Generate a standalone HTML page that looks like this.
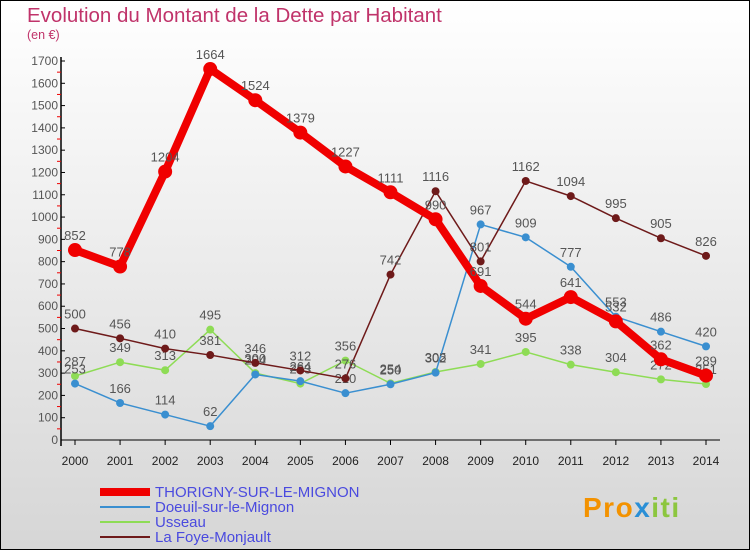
<!DOCTYPE html>
<html><head><meta charset="utf-8"><style>
html,body{margin:0;padding:0}
body{width:750px;height:550px;overflow:hidden;font-family:"Liberation Sans",sans-serif}
</style></head><body>
<svg width="750" height="550" viewBox="0 0 750 550">
<defs><linearGradient id="bg" x1="0" y1="0" x2="0" y2="1"><stop offset="0" stop-color="#ffffff"/><stop offset="1" stop-color="#d6d6d6"/></linearGradient></defs>
<rect x="0.5" y="0.5" width="749" height="549" fill="url(#bg)" stroke="#000"/>
<text x="27" y="22" font-size="20.5" fill="#c0336a">Evolution du Montant de la Dette par Habitant</text>
<text x="27" y="39" font-size="12.5" fill="#c0336a">(en €)</text>
<g id="axes"></g>
<g id="series"></g>
<g id="legend"></g>
<g>
<text x="583" y="517" font-size="28" font-weight="bold" fill="#f39200" letter-spacing="1.5">Pro<tspan fill="#2a8fd6">x</tspan><tspan fill="#8cc63f">iti</tspan></text>
</g>
</svg>
<script>
const years=[2000,2001,2002,2003,2004,2005,2006,2007,2008,2009,2010,2011,2012,2013,2014];
const yTicks=[0,100,200,300,400,500,600,700,800,900,1000,1100,1200,1300,1400,1500,1600,1700];
const thorigny=[852,778,1204,1664,1524,1379,1227,1111,990,691,544,641,532,362,289];
const doeuil=[253,166,114,62,294,264,210,250,302,967,909,777,553,486,420];
const usseau=[287,349,313,495,300,253,356,254,305,341,395,338,304,272,251];
const lafoye=[500,456,410,381,346,312,276,742,1116,801,1162,1094,995,905,826];
const seriesNames=["THORIGNY-SUR-LE-MIGNON","Doeuil-sur-le-Mignon","Usseau","La Foye-Monjault"];
const NS="http://www.w3.org/2000/svg";
const x0=75,x1=706,yb=440,yt=61,vmax=1700;
function X(i){return x0+(x1-x0)*i/(years.length-1);}
function Y(v){return yb-(yb-yt)*v/vmax;}
function mk(t,a,p){const e=document.createElementNS(NS,t);for(const k in a)e.setAttribute(k,a[k]);p.appendChild(e);return e;}
const ax=document.getElementById('axes');
const yAxis=mk('line',{x1:61,y1:yt-4,x2:61,y2:yb+6,stroke:'#000','stroke-width':1.5},ax);


const xAxis=mk('line',{x1:61,y1:yb,x2:720,y2:yb,stroke:'#000','stroke-width':1},ax);


yTicks.forEach(v=>{
 mk('line',{x1:61,y1:Y(v),x2:65,y2:Y(v),stroke:'#000'},ax);
 if(v<vmax) mk('line',{x1:57,y1:Y(v+50),x2:61,y2:Y(v+50),stroke:'#e00'},ax);
 const t=mk('text',{x:58,y:Y(v)+4,'font-size':12,'text-anchor':'end',fill:'#555'},ax);
 t.textContent=v;
 
 
});
years.forEach((yr,i)=>{
 mk('line',{x1:X(i),y1:yb,x2:X(i),y2:yb+5,stroke:'#000'},ax);
 const t=mk('text',{x:X(i),y:yb+25,'font-size':12,'text-anchor':'middle',fill:'#222'},ax);
 t.textContent=yr;
 
 
});
const sg=document.getElementById('series');
function draw(vals,color,w,r,name){
 const g=mk('g',{},sg);
 
 
 mk('polyline',{points:vals.map((v,i)=>X(i)+','+Y(v)).join(' '),fill:'none',stroke:color,'stroke-width':w,'stroke-linejoin':'round'},g);
 vals.forEach((v,i)=>{
  const c=mk('circle',{cx:X(i),cy:Y(v),r:r,fill:color},g);
  
  
  const t=mk('text',{x:X(i),y:Y(v)-10,'font-size':13,'text-anchor':'middle',fill:'#555'},g);
  t.textContent=v;
  
  
 });
}
draw(usseau,'#8edc55',1.5,4,'series-usseau');
draw(doeuil,'#3a8fd0',1.5,4,'series-doeuil');
draw(lafoye,'#6e1a1a',1.5,4,'series-la-foye');
draw(thorigny,'#f00000',8,7,'series-thorigny');
const lg=document.getElementById('legend');
const lc=['#f00000','#3a8fd0','#8edc55','#6e1a1a'],lw=[8,2,2,2];
seriesNames.forEach((n,i)=>{
 const y=492+i*15;
 const g=mk('g',{},lg);
 
 
 mk('line',{x1:100,y1:y,x2:150,y2:y,stroke:lc[i],'stroke-width':lw[i]},g);
 const t=mk('text',{x:155,y:y+5,'font-size':15,fill:'#4a4adf'},g);
 t.textContent=n;
});
</script>
</body></html>
